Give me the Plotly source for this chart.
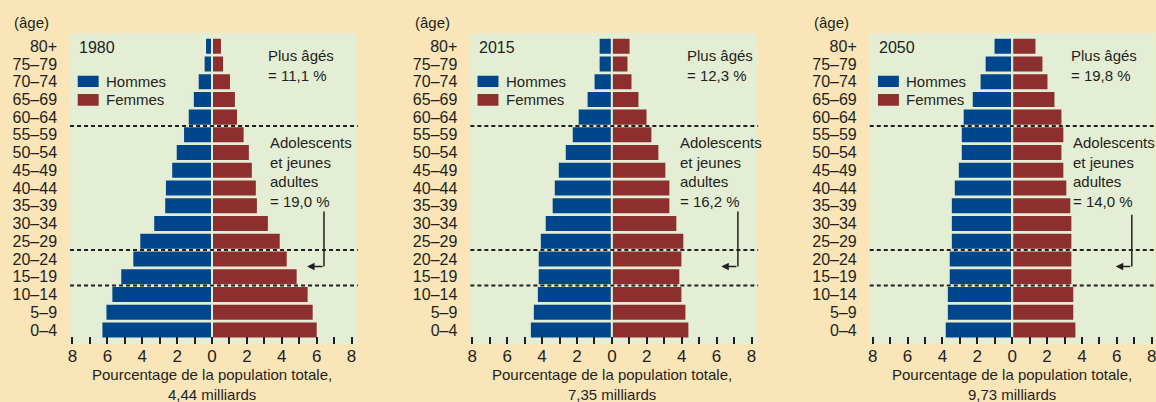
import plotly.graph_objects as go

# age groups, bottom (0-4) to top (80+)
ages = ["0–4", "5–9", "10–14", "15–19", "20–24", "25–29", "30–34", "35–39",
        "40–44", "45–49", "50–54", "55–59", "60–64", "65–69", "70–74", "75–79", "80+"]

years = ["1980", "2015", "2050"]

# % of total population, same order as ages
men_1980 = [6.34, 6.11, 5.77, 5.26, 4.57, 4.17, 3.37, 2.74, 2.70, 2.34, 2.08, 1.66, 1.39, 1.10, 0.82, 0.48, 0.40]
women_1980 = [6.06, 5.83, 5.54, 4.91, 4.34, 3.94, 3.26, 2.63, 2.57, 2.34, 2.17, 1.87, 1.49, 1.37, 1.09, 0.69, 0.57]
men_2015 = [4.70, 4.53, 4.30, 4.25, 4.25, 4.13, 3.85, 3.45, 3.33, 3.10, 2.70, 2.30, 1.96, 1.45, 1.05, 0.76, 0.76]
women_2015 = [4.44, 4.27, 4.04, 3.92, 4.04, 4.15, 3.75, 3.35, 3.35, 3.12, 2.72, 2.32, 2.04, 1.58, 1.18, 0.95, 1.07]
men_2050 = [3.87, 3.75, 3.75, 3.64, 3.64, 3.52, 3.52, 3.52, 3.35, 3.12, 2.95, 2.95, 2.84, 2.32, 1.87, 1.58, 1.07]
women_2050 = [3.68, 3.56, 3.56, 3.45, 3.45, 3.45, 3.45, 3.39, 3.16, 2.99, 2.88, 2.99, 2.88, 2.48, 2.08, 1.79, 1.39]

older_share = ["11,1 %", "12,3 %", "19,8 %"]
young_share = ["19,0 %", "16,2 %", "14,0 %"]
totals = ["4,44 milliards", "7,35 milliards", "9,73 milliards"]

tick_vals = list(range(-8, 9))
tick_text = [str(abs(v)) if v % 2 == 0 else "" for v in tick_vals]

PAPER = "#F9E5B8"
PLOT = "#E3EED4"
BLUE = "#00468A"
RED = "#8E2F2F"
INK = "#231F20"
FONT = "Liberation Sans, Arial, sans-serif"

domains = [[0.0582, 0.3080], [0.4057, 0.6555], [0.7524, 1.0]]
xranges = [[-8.14, 8.36], [-8.11, 8.38], [-8.17, 8.19]]
plus_x = [3.12, 4.17, 3.24]
ado_x = [3.20, 3.81, 3.40]
arrow_x = [6.42, 7.22, 6.86]
arrow_tip = [5.45, 6.27, 5.94]
arrow_top = [6.68, 6.68, 6.5]

men = [men_1980, men_2015, men_2050]
women = [women_1980, women_2015, women_2050]

fig = go.Figure()
shapes = []
annotations = []

for k in range(3):
    xa = "x" if k == 0 else f"x{k + 1}"
    ya = "y" if k == 0 else f"y{k + 1}"
    fig.add_trace(go.Bar(
        y=ages, x=[-v for v in men[k]], orientation="h", xaxis=xa, yaxis=ya,
        marker=dict(color=BLUE, line=dict(color=PLOT, width=2)),
        showlegend=False, hoverinfo="skip",
    ))
    fig.add_trace(go.Bar(
        y=ages, x=women[k], orientation="h", xaxis=xa, yaxis=ya,
        marker=dict(color=RED, line=dict(color=PLOT, width=2)),
        showlegend=False, hoverinfo="skip",
    ))

    sfx = "" if k == 0 else str(k + 1)
    fig.update_layout(**{
        f"xaxis{sfx}": dict(
            domain=domains[k], range=xranges[k], anchor=ya,
            tickvals=tick_vals, ticktext=tick_text, ticklabeloverflow="allow",
            ticks="inside", ticklen=7, tickwidth=1.5, tickcolor=INK,
            showgrid=False, zeroline=False, showline=False, fixedrange=True,
            tickfont=dict(size=17, color=INK, family=FONT),
        ),
        f"yaxis{sfx}": dict(
            domain=[0, 1], anchor=xa, type="category", categoryarray=ages,
            tickmode="array", tickvals=ages, ticktext=ages,
            range=[-0.795, 16.745], showgrid=False, zeroline=False,
            showline=False, ticks="", ticklabelstandoff=12,
            tickfont=dict(size=16, color=INK, family=FONT),
        ),
    })

    # dashed separators between age bands
    for yv in [11.5, 4.5, 2.5]:
        shapes.append(dict(type="line", xref=f"{xa} domain", yref=ya,
                           x0=0, x1=1, y0=yv, y1=yv, layer="above",
                           line=dict(color=INK, width=2, dash="4px,3px")))

    # legend swatches
    shapes.append(dict(type="rect", xref=xa, yref=ya, x0=-7.70, x1=-6.50,
                       y0=13.70, y1=14.34, fillcolor=BLUE, line_width=0))
    shapes.append(dict(type="rect", xref=xa, yref=ya, x0=-7.70, x1=-6.50,
                       y0=12.645, y1=13.30, fillcolor=RED, line_width=0))
    annotations.append(dict(xref=xa, yref=ya, x=-6.21, y=14.02, text="Hommes",
                            showarrow=False, xanchor="left", yanchor="middle",
                            font=dict(size=15)))
    annotations.append(dict(xref=xa, yref=ya, x=-6.21, y=12.97, text="Femmes",
                            showarrow=False, xanchor="left", yanchor="middle",
                            font=dict(size=15)))
    annotations.append(dict(xref=xa, yref=ya, x=-7.75, y=15.92, text=years[k],
                            showarrow=False, xanchor="left", yanchor="middle",
                            font=dict(size=16)))

    annotations.append(dict(xref=xa, yref=ya, x=plus_x[k], y=14.9,
                            text=f"Plus âgés<br>= {older_share[k]}",
                            showarrow=False, xanchor="left", yanchor="middle",
                            align="left", font=dict(size=15)))
    annotations.append(dict(xref=xa, yref=ya, x=ado_x[k], y=8.92,
                            text=f"Adolescents<br>et jeunes<br>adultes<br>= {young_share[k]}",
                            showarrow=False, xanchor="left", yanchor="middle",
                            align="left", font=dict(size=15)))

    # bent arrow to the 15-24 band
    shapes.append(dict(type="line", xref=xa, yref=ya, x0=arrow_x[k], x1=arrow_x[k],
                       y0=arrow_top[k], y1=3.58, line=dict(color=INK, width=1.5)))
    annotations.append(dict(xref=xa, yref=ya, x=arrow_tip[k], y=3.58,
                            axref=xa, ayref=ya, ax=arrow_x[k], ay=3.58, text="",
                            showarrow=True, arrowhead=2, arrowsize=1,
                            arrowwidth=1.5, arrowcolor=INK, standoff=0))

    # axis title
    annotations.append(dict(xref=xa, yref="paper", x=0, y=-0.129,
                            text=f"Pourcentage de la population totale,<br>{totals[k]}",
                            showarrow=False, xanchor="center", yanchor="middle",
                            font=dict(size=15)))

    # "(âge)" label above age ticks
    annotations.append(dict(xref="paper", yref="paper",
                            x=domains[k][0] - 58 / 1156, y=1.035, text="(âge)",
                            showarrow=False, xanchor="left", yanchor="middle",
                            font=dict(size=15)))

fig.update_layout(
    width=1156, height=402,
    margin=dict(l=0, r=0, t=33, b=58),
    paper_bgcolor=PAPER, plot_bgcolor=PLOT,
    barmode="relative", bargap=0.04,
    font=dict(family=FONT, color=INK, size=15),
    shapes=shapes, annotations=annotations,
)

fig.write_html("out.html", config={"displayModeBar": False},
               post_script="document.body.style.margin='0';")
